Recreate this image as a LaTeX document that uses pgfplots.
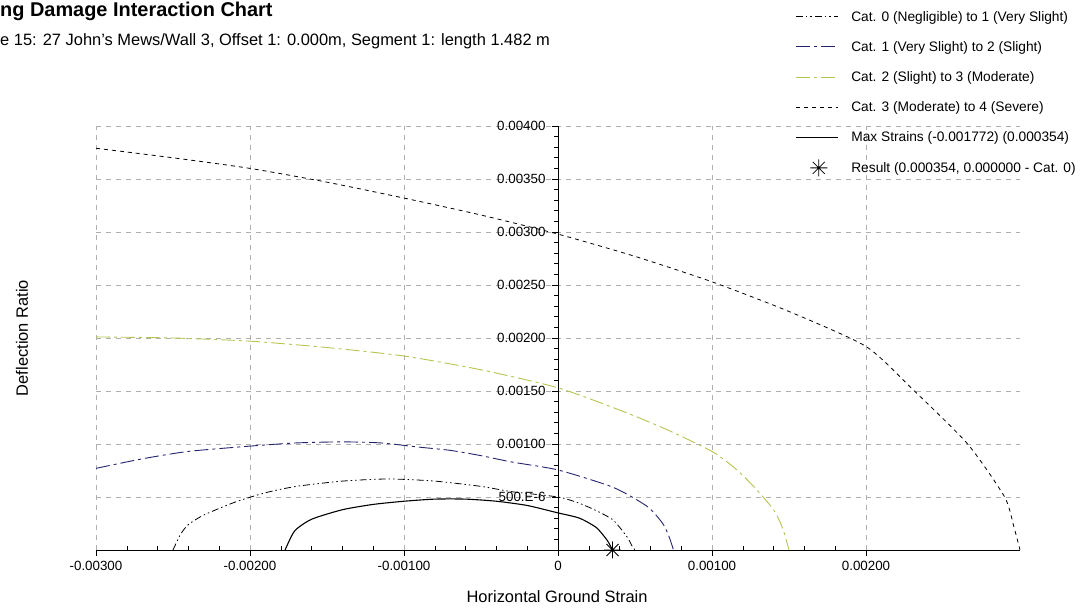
\documentclass[border=0pt]{standalone}
\usepackage{fontspec}
\setmainfont{Liberation Sans}
\usepackage{pgfplots}
\pgfplotsset{compat=1.18}
\usetikzlibrary{plotmarks}
\definecolor{navyc}{RGB}{35,35,110}
\definecolor{yelc}{RGB}{185,195,80}
\definecolor{gridc}{RGB}{175,175,175}
\pgfdeclareplotmark{star8}{%
\pgfpathmoveto{\pgfqpoint{-\pgfplotmarksize}{0pt}}\pgfpathlineto{\pgfqpoint{\pgfplotmarksize}{0pt}}%
\pgfpathmoveto{\pgfqpoint{0pt}{-\pgfplotmarksize}}\pgfpathlineto{\pgfqpoint{0pt}{\pgfplotmarksize}}%
\pgfpathmoveto{\pgfqpoint{-.707\pgfplotmarksize}{-.707\pgfplotmarksize}}\pgfpathlineto{\pgfqpoint{.707\pgfplotmarksize}{.707\pgfplotmarksize}}%
\pgfpathmoveto{\pgfqpoint{-.707\pgfplotmarksize}{.707\pgfplotmarksize}}\pgfpathlineto{\pgfqpoint{.707\pgfplotmarksize}{-.707\pgfplotmarksize}}%
\pgfusepathqstroke}
\pgfplotsset{
  lineleg/.style={legend image code/.code={\draw[##1] (0bp,0bp) -- (42bp,0bp);}},
  markleg/.style={legend image code/.code={\draw[##1] plot coordinates {(23bp,0bp)};}},
}
\begin{document}
\begin{tikzpicture}[x=1bp,y=1bp]
\useasboundingbox (0,0) rectangle (1082,608);
\node[anchor=base west, inner sep=0, font=\fontsize{20}{24}\selectfont\bfseries] at (0,591) {ng Damage Interaction Chart};
\node[anchor=base west, inner sep=0, font=\fontsize{16.5}{19}\selectfont] at (0,562) {e 15: 27 John's Mews/Wall 3, Offset 1: 0.000m, Segment 1: length 1.482 m};
\begin{axis}[
  at={(96bp,58bp)}, anchor=south west,
  width=924bp, height=424bp, scale only axis,
  xmin=-0.003, xmax=0.003, ymin=0, ymax=0.004,
  axis x line=bottom, axis y line=center,
  axis line style={-, black, line width=0.8bp},
  scaled ticks=false,
  xtick={-0.003,-0.002,-0.001,0,0.001,0.002},
  xticklabels={-0.00300,-0.00200,-0.00100,0,0.00100,0.00200},
  ytick={0,0.0005,0.001,0.0015,0.002,0.0025,0.003,0.0035,0.004},
  yticklabels={0,500.E-6,0.00100,0.00150,0.00200,0.00250,0.00300,0.00350,0.00400},
  minor x tick num=4, minor y tick num=4,
  tick style={black, line width=0.6bp},
  major tick length=6bp, minor tick length=4bp,
  tick align=outside,
  minor x tick style={yshift=4bp},
  grid=major,
  major grid style={gridc, dash pattern=on 5bp off 5bp, line width=0.6bp},
  tick label style={font=\fontsize{13.4}{15}\selectfont},
  xticklabel style={yshift=-2bp},
  yticklabel style={xshift=-3bp},
  /pgf/number format/assume math mode=true,
  xlabel={Horizontal Ground Strain},
  ylabel={Deflection Ratio},
  label style={font=\fontsize{16.5}{19}\selectfont},
  xlabel style={at={(axis description cs:0.499,-0.111)}, anchor=center},
  ylabel style={at={(axis description cs:-0.080,0.5)}, anchor=center, rotate=90},
  legend style={at={(axis description cs:0.7565,1.276)}, anchor=north west, draw=none, fill=none,
    font=\fontsize{13.8}{16}\selectfont, row sep=14.6bp, inner sep=0pt,
    /tikz/every odd column/.append style={column sep=11bp}},
  legend cell align=left,
  clip=false,
]
\addplot[black, line width=0.8bp, smooth, tension=0.4, dash pattern=on 7bp off 3bp on 1.5bp off 3bp on 1.5bp off 3bp, lineleg] coordinates {
(-0.0025,0) (-0.00245,0.00015) (-0.0024,0.00024) (-0.0023,0.00033) (-0.0021,0.00045) (-0.0019,0.00054) (-0.0017,0.0006) (-0.0014,0.00065) (-0.0011,0.00067) (-0.0008,0.00065) (-0.0005,0.0006) (-0.0003,0.00055) (0,0.0005) (0.00014,0.00044) (0.00025,0.00037) (0.00036,0.00028) (0.00045,0.00012) (0.00048,0.00004) (0.0005,0)
};
\addlegendentry{Cat. 0 (Negligible) to 1 (Very Slight)}
\addplot[navyc, line width=0.9bp, smooth, tension=0.4, dash pattern=on 14bp off 4bp on 3bp off 4bp, lineleg] coordinates {
(-0.003,0.00077) (-0.0027,0.00086) (-0.0024,0.00093) (-0.002,0.00098) (-0.0017,0.00101) (-0.0014,0.00102) (-0.00115,0.00101) (-0.0009,0.00097) (-0.0007,0.00094) (-0.0005,0.00089) (-0.0003,0.00083) (0,0.000755) (0.00036,0.00059) (0.00058,0.00041) (0.00068,0.00025) (0.00072,0.00013) (0.00075,0)
};
\addlegendentry{Cat. 1 (Very Slight) to 2 (Slight)}
\addplot[yelc, line width=0.9bp, smooth, tension=0.4, dash pattern=on 14bp off 4bp on 3bp off 4bp, lineleg] coordinates {
(-0.003,0.00201) (-0.0025,0.002) (-0.002,0.00197) (-0.0015,0.00191) (-0.001,0.00183) (-0.0005,0.0017) (0,0.00153) (0.0004,0.00132) (0.0007,0.00114) (0.001,0.00093) (0.00115,0.00077) (0.00127,0.0006) (0.0014,0.00038) (0.00146,0.0002) (0.0015,0)
};
\addlegendentry{Cat. 2 (Slight) to 3 (Moderate)}
\addplot[black, line width=0.8bp, smooth, tension=0.4, dash pattern=on 4bp off 4bp, lineleg] coordinates {
(-0.003,0.00379) (-0.0025,0.0037) (-0.002,0.0036) (-0.0015,0.00347) (-0.001,0.00332) (-0.0005,0.00316) (0,0.00298) (0.0005,0.00277) (0.001,0.00253) (0.0015,0.00225) (0.002,0.00192) (0.0023,0.00152) (0.00266,0.001) (0.0029,0.0005) (0.00296,0.00022) (0.003,0)
};
\addlegendentry{Cat. 3 (Moderate) to 4 (Severe)}
\addplot[black, line width=1.1bp, smooth, tension=0.4, lineleg] coordinates {
(-0.001772,0) (-0.00171,0.00018) (-0.0016,0.00029) (-0.0014,0.00038) (-0.0012,0.00043) (-0.001,0.00046) (-0.0008,0.00048) (-0.0006,0.00048) (-0.0004,0.00046) (-0.0002,0.00042) (0,0.00035) (0.00014,0.0003) (0.00025,0.00021) (0.00032,0.00009) (0.000354,0)
};
\addlegendentry{Max Strains (-0.001772) (0.000354)}
\addplot[black, only marks, mark=star8, mark size=8.5bp, line width=0.8bp, markleg] coordinates {(0.000354,0)};
\addlegendentry{Result (0.000354, 0.000000 - Cat. 0)}
\end{axis}
\end{tikzpicture}
\end{document}
